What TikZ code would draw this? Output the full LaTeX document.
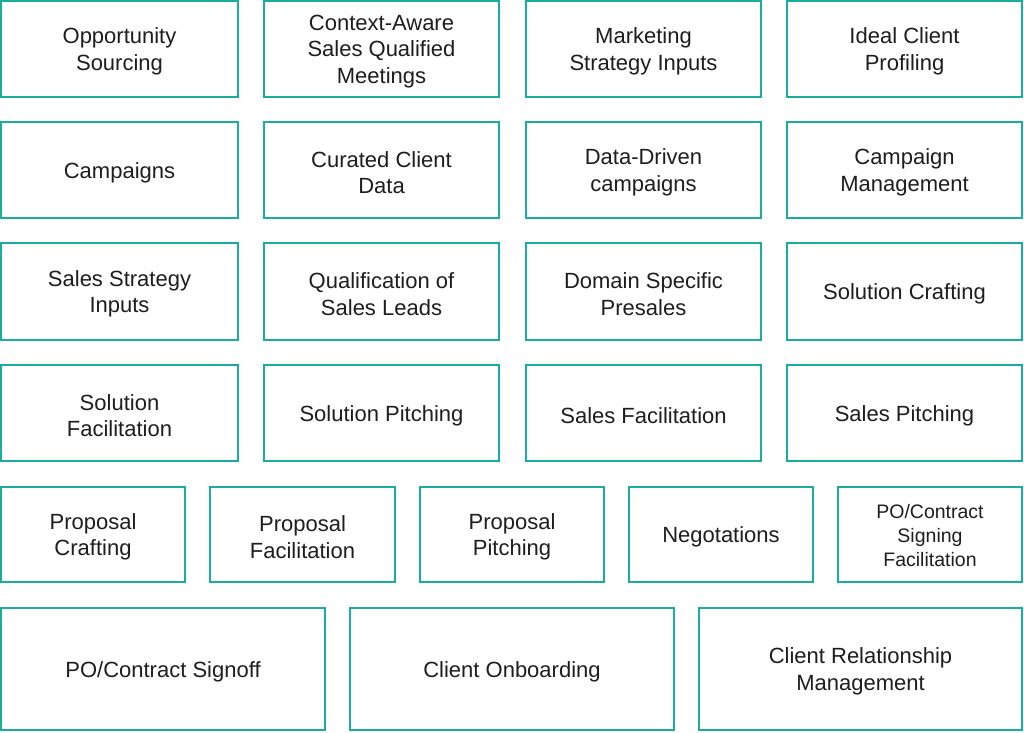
\documentclass[tikz,border=0pt]{standalone}
\usepackage{fontspec}
\setmainfont{Liberation Sans}
\definecolor{teal1}{RGB}{26,173,158}
\definecolor{txt}{RGB}{30,30,30}
\tikzset{
  cellbox/.style={draw=teal1, line width=2pt, fill=white, inner sep=0pt},
  celltext/.style={inner sep=0pt, align=center, text=txt, font=\fontsize{22}{26.5}\selectfont},
  small/.style={font=\fontsize{19.5}{24}\selectfont}
}
% \mycell[text opts]{name}{x1}{x2}{y1}{y2}{text}
\newcommand{\mycell}[7][]{%
  \node[cellbox, minimum width={(#4)-(#3)-2}, minimum height={(#6)-(#5)-2}] (#2) at ({((#3)+(#4))/2}, {-((#5)+(#6))/2}) {};
  \node[celltext,#1] (#2-t) at ([yshift=-2.5pt]#2.center) {#7};}
\begin{document}
\begin{tikzpicture}[x=1pt,y=1pt]
\useasboundingbox (0,0) rectangle (1024,-732);
% row 1
\mycell{r1a}{0}{239}{0}{98}{Opportunity\\Sourcing}
\mycell{r1b}{263}{500}{0}{98}{Context-Aware\\Sales Qualified\\Meetings}
\mycell{r1c}{525}{762}{0}{98}{Marketing\\Strategy Inputs}
\mycell{r1d}{786}{1023}{0}{98}{Ideal Client\\Profiling}
% row 2
\mycell{r2a}{0}{239}{121}{219}{Campaigns}
\mycell{r2b}{263}{500}{121}{219}{Curated Client\\Data}
\mycell{r2c}{525}{762}{121}{219}{Data-Driven\\campaigns}
\mycell{r2d}{786}{1023}{121}{219}{Campaign\\Management}
% row 3
\mycell{r3a}{0}{239}{242}{341}{Sales Strategy\\Inputs}
\mycell{r3b}{263}{500}{242}{341}{Qualification of\\Sales Leads}
\mycell{r3c}{525}{762}{242}{341}{Domain Specific\\Presales}
\mycell{r3d}{786}{1023}{242}{341}{Solution Crafting}
% row 4
\mycell{r4a}{0}{239}{364}{462}{Solution\\Facilitation}
\mycell{r4b}{263}{500}{364}{462}{Solution Pitching}
\mycell{r4c}{525}{762}{364}{462}{Sales Facilitation}
\mycell{r4d}{786}{1023}{364}{462}{Sales Pitching}
% row 5
\mycell{r5a}{0}{186}{486}{583}{Proposal\\Crafting}
\mycell{r5b}{209}{396}{486}{583}{Proposal\\Facilitation}
\mycell{r5c}{419}{605}{486}{583}{Proposal\\Pitching}
\mycell{r5d}{628}{814}{486}{583}{Negotations}
\mycell[small, yshift=1.5pt]{r5e}{837}{1023}{486}{583}{PO/Contract\\Signing\\Facilitation}
% row 6
\mycell{r6a}{0}{326}{607}{731}{PO/Contract Signoff}
\mycell{r6b}{349}{675}{607}{731}{Client Onboarding}
\mycell{r6c}{698}{1023}{607}{731}{Client Relationship\\Management}
\end{tikzpicture}
\end{document}
